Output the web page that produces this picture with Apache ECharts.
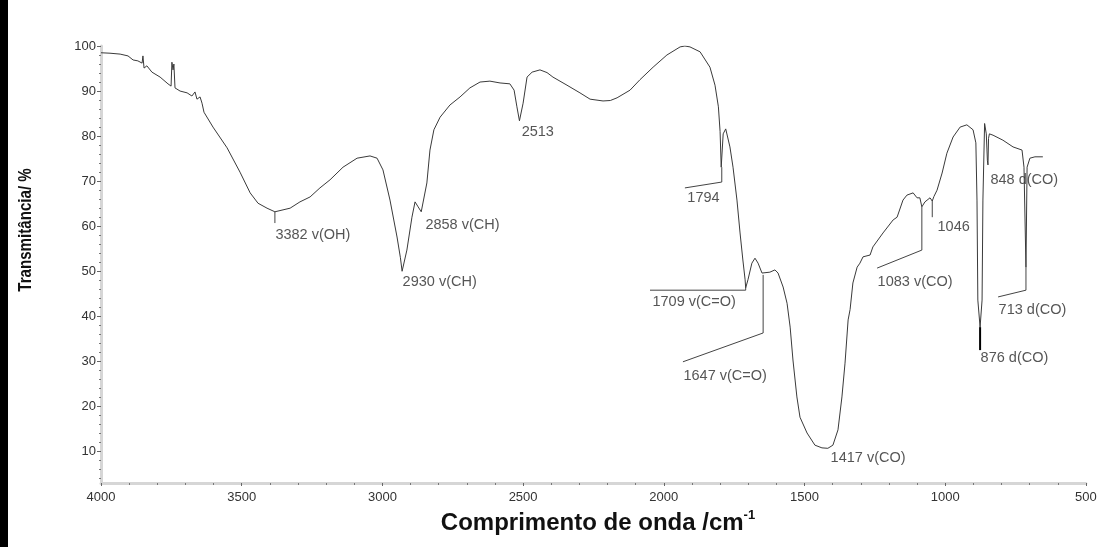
<!DOCTYPE html>
<html>
<head>
<meta charset="utf-8">
<script src="https://cdn.jsdelivr.net/npm/echarts@6/dist/echarts.min.js"></script>
<style>
  html, body { margin: 0; padding: 0; background: #fff; }
  #chart { width: 1110px; height: 547px; }
</style>
</head>
<body>
<div id="chart"></div>
<script>
// FTIR spectrum: wavenumber (cm-1) and transmittance (%)
const wavenumber = [
  4000, 3968, 3932, 3904, 3886, 3869, 3854, 3851, 3847, 3837, 3819, 3790, 3762, 3751, 3748, 3744,
  3741, 3737, 3719, 3694, 3677, 3666, 3659, 3648, 3641, 3634, 3602, 3552, 3506, 3470, 3442, 3410,
  3382, 3328, 3293, 3257, 3222, 3186, 3140, 3090, 3044, 3019, 2998, 2973, 2948, 2936, 2930, 2913,
  2895, 2884, 2873, 2862, 2858, 2842, 2831, 2817, 2795, 2760, 2724, 2689, 2653, 2618, 2582, 2547,
  2532, 2522, 2513, 2500, 2486, 2468, 2440, 2415, 2394, 2344, 2298, 2262, 2216, 2190, 2166, 2120, 2085, 2038,
  1989, 1942, 1925, 1907, 1871, 1836, 1818, 1806, 1800, 1796, 1794, 1789, 1780, 1765, 1754, 1740, 1729,
  1719, 1711, 1709, 1701, 1687, 1676, 1665, 1651, 1647, 1623, 1605, 1594, 1576, 1562, 1551, 1541,
  1527, 1516, 1491, 1463, 1438, 1417, 1399, 1381, 1367, 1356, 1345, 1338, 1328, 1313, 1303, 1292,
  1267, 1257, 1221, 1185, 1171, 1150, 1136, 1114, 1100, 1090, 1083, 1072, 1054, 1046, 1040, 1029,
  1011, 994, 972, 947, 923, 901, 891, 887, 884, 876, 869, 866, 860, 854, 850, 848,
  846, 843, 830, 795, 759, 727, 720, 713, 709, 699, 681, 653
];
const transmittance = [
  98.5, 98.4, 98.2, 97.8, 96.9, 96.7, 96.2, 97.8, 95.1, 95.6, 94.2, 93.1, 91.6, 91.1, 96.4, 94.7,
  96.0, 90.7, 90.0, 89.6, 88.9, 89.8, 88.2, 88.7, 87.3, 85.3, 82.0, 77.4, 72.0, 67.4, 65.1, 64.0,
  63.2, 64.0, 65.4, 66.5, 68.5, 70.3, 73.1, 75.1, 75.6, 75.1, 72.5, 65.8, 57.6, 53.0, 50.0, 54.7,
  62.0, 65.4, 64.3, 63.2, 62.9, 69.6, 76.9, 81.4, 84.2, 86.9, 88.7, 90.7, 92.0, 92.2, 91.8, 91.6,
  90.2, 86.5, 83.4, 87.3, 93.1, 94.2, 94.7, 94.1, 93.1, 91.3, 89.6, 88.2, 87.8, 87.9, 88.5, 90.2, 92.5, 95.3,
  98.0, 99.8, 100.0, 99.8, 98.7, 95.3, 91.3, 86.5, 81.0, 73.1, 73.1, 80.5, 81.6, 77.6, 73.1, 65.8, 58.5,
  52.5, 48.1, 46.3, 48.1, 51.8, 52.9, 51.8, 49.6, 49.2, 49.8, 50.3, 49.6, 46.5, 42.9, 37.6, 30.3,
  22.1, 17.6, 14.1, 11.4, 10.8, 10.7, 11.4, 14.8, 22.1, 29.6, 39.2, 41.5, 47.4, 50.9, 51.8, 53.2,
  53.6, 55.4, 58.5, 61.4, 62.0, 65.8, 66.9, 67.4, 66.3, 66.3, 64.3, 65.4, 66.3, 65.6, 66.6, 68.0,
  71.8, 76.2, 79.8, 82.0, 82.5, 81.4, 78.5, 65.8, 43.6, 37.6, 43.6, 65.8, 82.8, 80.5, 74.5, 73.6,
  79.5, 80.5, 80.2, 79.1, 77.6, 76.9, 73.1, 50.9, 73.1, 75.1, 75.4, 75.4
];

// Band assignments: text and where each one sits (wavenumber, %)
const bandText = [
  '3382 v(OH)', '2930 v(CH)', '2858 v(CH)', '2513', '1794', '1709 v(C=O)', '1647 v(C=O)',
  '1417 v(CO)', '1083 v(CO)', '1046', '876 d(CO)', '848 d(CO)', '713 d(CO)'
];
const bandTextAt = [
  [3382, 58.0], [2930, 47.6], [2849, 60.3], [2507, 80.9], [1918, 66.3], [2042, 43.2], [1932, 26.7],
  [1409, 8.5], [1242, 47.6], [1029, 59.8], [876, 30.7], [841, 70.3], [812, 41.4]
];

// Leader lines from each band to its text
const leaderLines = [
  [[3382, 63.2], [3382, 60.7]],
  [[1794, 73.1], [1794, 69.8], [1925, 68.5]],
  [[1709, 46.3], [1709, 45.8], [2049, 45.8]],
  [[1647, 49.2], [1647, 36.3], [1932, 29.9]],
  [[1083, 64.3], [1083, 54.7], [1242, 50.7]],
  [[1046, 65.8], [1046, 62.0]],
  [[713, 50.9], [713, 45.8], [812, 44.3]]
];
const leader876 = [[876, 37.6], [876, 32.5]];

// Axis ticks
const xTicks = [4000, 3500, 3000, 2500, 2000, 1500, 1000, 500];
const yTicks = [10, 20, 30, 40, 50, 60, 70, 80, 90, 100];

const chart = echarts.init(document.getElementById('chart'), null, { renderer: 'canvas' });

const lineColor = '#3a3a3a';
const textFont = "'Liberation Sans', Arial, sans-serif";

const spectrum = wavenumber.map((w, i) => [w, transmittance[i]]);

const leaderSeries = leaderLines.map((pts, i) => ({
  type: 'line',
  name: 'leader' + i,
  data: pts,
  silent: true,
  symbol: 'none',
  animation: false,
  lineStyle: { color: '#444', width: 1 },
  z: 3
}));

const option = {
  backgroundColor: '#ffffff',
  animation: false,
  grid: { left: 101, right: 24.1, top: 46, bottom: 64, containLabel: false },
  xAxis: {
    type: 'value',
    inverse: true,
    min: 500,
    max: 4000,
    interval: 500,
    axisLine: { show: true, lineStyle: { color: '#d6d6d6', width: 3 } },
    axisTick: { show: true, length: 3, lineStyle: { color: '#666', width: 1 } },
    minorTick: { show: true, splitNumber: 5, length: 2, lineStyle: { color: '#777', width: 1 } },
    splitLine: { show: false },
    axisLabel: {
      margin: 8,
      color: '#333',
      fontFamily: textFont,
      fontSize: 13,
      customValues: xTicks,
      formatter: v => String(v)
    }
  },
  yAxis: {
    type: 'value',
    min: 3,
    max: 100,
    splitNumber: 10,
    axisLine: { show: true, lineStyle: { color: '#d6d6d6', width: 3 } },
    axisTick: { show: true, length: 4, lineStyle: { color: '#666', width: 1 }, customValues: yTicks },
    minorTick: { show: true, splitNumber: 5, length: 2, lineStyle: { color: '#777', width: 1 } },
    splitLine: { show: false },
    axisLabel: {
      margin: 5,
      color: '#333',
      fontFamily: textFont,
      fontSize: 13,
      customValues: yTicks,
      formatter: v => String(v)
    }
  },
  graphic: [
    { type: 'rect', left: 0, top: 0, shape: { width: 8, height: 547 }, style: { fill: '#000' }, silent: true },
    {
      type: 'text',
      x: 26, y: 230,
      rotation: Math.PI / 2,
      scaleX: 0.84,
      style: {
        text: 'Transmitância/ %',
        font: "bold 18px 'Liberation Sans', Arial, sans-serif",
        fill: '#111',
        align: 'center',
        verticalAlign: 'middle'
      },
      silent: true
    },
    {
      type: 'text',
      x: 598, y: 522,
      style: {
        text: '{t|Comprimento de onda /cm}{s|-1}',
        align: 'center',
        verticalAlign: 'middle',
        rich: {
          t: { font: "bold 24px 'Liberation Sans', Arial, sans-serif", fill: '#111', lineHeight: 27, verticalAlign: 'bottom' },
          s: { font: "bold 13px 'Liberation Sans', Arial, sans-serif", fill: '#111', lineHeight: 14, verticalAlign: 'top' }
        }
      },
      silent: true
    }
  ],
  series: [
    {
      type: 'line',
      name: 'spectrum',
      data: spectrum,
      symbol: 'none',
      smooth: false,
      lineStyle: { color: lineColor, width: 1 },
      z: 4
    },
    ...leaderSeries,
    {
      type: 'line',
      name: 'leader876',
      data: leader876,
      symbol: 'none',
      silent: true,
      lineStyle: { color: '#000', width: 2 },
      z: 3
    },
    {
      type: 'scatter',
      name: 'bands',
      data: bandText.map((t, i) => ({ name: t, value: bandTextAt[i] })),
      symbol: 'circle',
      symbolSize: 1,
      itemStyle: { color: 'rgba(0,0,0,0)' },
      silent: true,
      label: {
        show: true,
        position: 'right',
        distance: 0,
        formatter: p => p.name,
        color: '#2a2a2a',
        fontFamily: textFont,
        fontSize: 14.5
      },
      z: 5
    }
  ]
};

chart.setOption(option);
</script>
</body>
</html>
